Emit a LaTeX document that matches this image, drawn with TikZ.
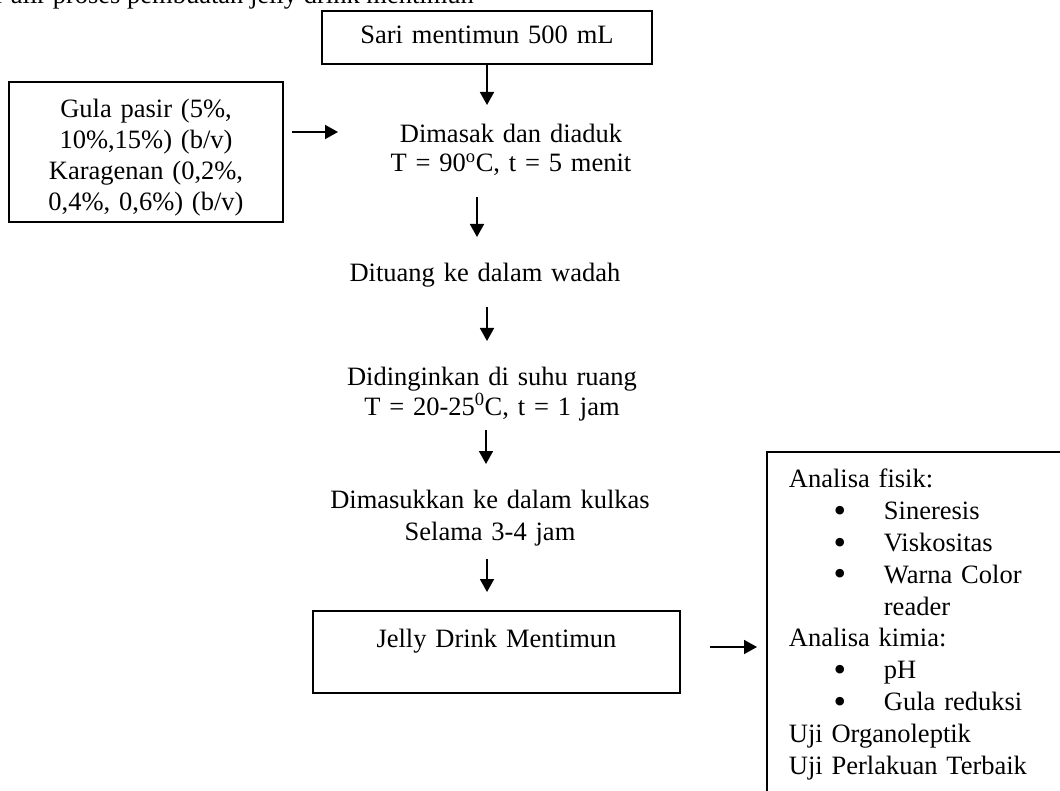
\documentclass[tikz,border=0pt]{standalone}
\usepackage{fontspec}
\setmainfont{Liberation Serif}
\usetikzlibrary{arrows.meta}
\newcommand{\bigbul}{\raisebox{-0.1em}{\scalebox{1.35}{\textbullet}}}
\newcommand{\bul}[1]{{\leftskip=95pt\noindent\llap{\makebox[0pt]{\bigbul}\hspace*{44pt}}#1\par}}
\begin{document}
\begin{tikzpicture}[x=1pt,y=1pt,
  every node/.style={font=\fontsize{26.5}{30.5}\selectfont, inner sep=0pt},
  txt/.style={text width=#1, align=center, anchor=base},
  boxed/.style={draw, line width=1.8pt},
  arr/.style={line width=1.8pt, -{Triangle[length=13pt,width=14pt]}}]
\useasboundingbox (0,0) rectangle (1060,-791);
\clip (0,0) rectangle (1060,-791);
% title (cut at the top)
\node[anchor=base east] (title) at (474,-4) {r alir proses pembuatan jelly drink mentimun};
% boxes and steps
\node[boxed, txt=330pt, text height=33pt, text depth=20pt] (sari) at (487,-44) {Sari mentimun 500 mL};
\node[boxed, txt=274pt, text height=36pt, text depth=104pt,
      font=\fontsize{26.5}{30.7}\selectfont] (gula) at (146,-118)
      {Gula pasir (5\%,\\10\%,15\%) (b/v)\\Karagenan (0,2\%,\\0,4\%, 0,6\%) (b/v)};
\node[txt=320pt, font=\fontsize{26.5}{29}\selectfont] (masak) at (511,-143)
      {Dimasak dan diaduk\\T = 90\textsuperscript{o}C, t = 5 menit};
\node[txt=320pt] (tuang) at (485,-282) {Dituang ke dalam wadah};
\node[txt=340pt, font=\fontsize{26.5}{30}\selectfont] (dingin) at (492,-385)
      {Didinginkan di suhu ruang\\T = 20-25\textsuperscript{0}C, t = 1 jam};
\node[txt=340pt, font=\fontsize{26.5}{32}\selectfont] (kulkas) at (490,-508)
      {Dimasukkan ke dalam kulkas\\Selama 3-4 jam};
\node[boxed, txt=367pt, text height=36pt, text depth=46pt] (jelly) at (496.5,-647) {Jelly Drink Mentimun};
\node[boxed, anchor=north west, text width=300pt, align=left, inner xsep=22pt, inner ysep=0pt,
      text height=36pt, text depth=360pt, font=\fontsize{26.5}{31.8}\selectfont] (analisa) at (766,-451)
      {Analisa fisik:\par
       \bul{Sineresis}\bul{Viskositas}\bul{Warna Color\newline reader}%
       Analisa kimia:\par
       \bul{pH}\bul{Gula reduksi}%
       Uji Organoleptik\par
       Uji Perlakuan Terbaik};
% arrow ends
\coordinate (c1) at (487,-105);
\coordinate (c2a) at (292,-132); \coordinate (c2b) at (338,-132);
\coordinate (c3a) at (477,-197); \coordinate (c3b) at (477,-237);
\coordinate (c4a) at (487,-307); \coordinate (c4b) at (487,-341);
\coordinate (c5a) at (486,-430); \coordinate (c5b) at (486,-464);
\coordinate (c6a) at (487,-559); \coordinate (c6b) at (487,-592);
\coordinate (c7a) at (710,-647); \coordinate (c7b) at (757,-647);
\draw[arr] (sari.south) -- (c1);
\draw[arr] (c2a) -- (c2b);
\draw[arr] (c3a) -- (c3b);
\draw[arr] (c4a) -- (c4b);
\draw[arr] (c5a) -- (c5b);
\draw[arr] (c6a) -- (c6b);
\draw[arr] (c7a) -- (c7b);
\end{tikzpicture}
\end{document}
